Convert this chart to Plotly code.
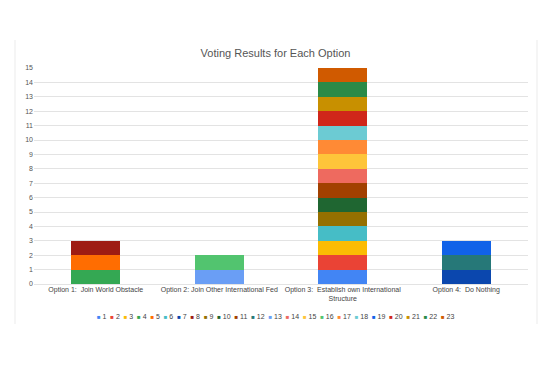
import plotly.graph_objects as go

options = [
    "Option 1:  Join World Obstacle",
    "Option 2: Join Other International Fed",
    "Option 3:  Establish own International<br>Structure",
    "Option 4:  Do Nothing",
]
series_names = [str(i) for i in range(1, 24)]
# option (1-based) each voter chose, and the votes each contributes
series_option = [3, 3, 3, 1, 1, 3, 4, 1, 3, 3, 3, 4, 2, 3, 3, 2, 3, 3, 4, 3, 3, 3, 3]
series_votes = [1] * 23
colors = [
    "#4285F4", "#EA4335", "#FBBC04", "#34A853", "#FF6D01", "#46BDC6",
    "#0B47AE", "#9E1C13", "#957000", "#1F6631", "#A24000", "#267878",
    "#6A9EF5", "#EE6A5F", "#FEC53A", "#52C46F", "#FF8A35", "#6CCBD3",
    "#1162E8", "#D0261A", "#C89000", "#2A8A47", "#D05A00",
]
y_ticks = list(range(0, 16))

# page body has an 8px margin; figure coordinates are offset by it
OFF = 8
W, H = 550 - OFF, 366 - OFF
L, R, T = 34 - OFF, 550 - 528, 68 - OFF
B = H - (284 - OFF)
pw, ph = W - L - R, H - T - B

fig = go.Figure()
for name, opt, v, c in zip(series_names, series_option, series_votes, colors):
    fig.add_trace(go.Bar(
        name=name, x=[options[opt - 1]], y=[v],
        marker=dict(color=c, line=dict(width=0)),
        showlegend=False,
    ))

def px_x(x):
    return (x - OFF - L) / pw

def px_y(y):
    return (H - B - (y - OFF)) / ph

legend_text = "\u00a0\u00a0".join(
    f"<span style='color:{c};font-size:6px'>■</span>\u00a0{n}"
    for n, c in zip(series_names, colors)
)

fig.update_layout(
    width=W, height=H,
    margin=dict(l=L, r=R, t=T, b=B),
    barmode="stack",
    bargap=0.6,
    plot_bgcolor="white",
    paper_bgcolor="white",
    font=dict(family="Arial, Liberation Sans, sans-serif", color="#444444", size=7),
    title=dict(text="Voting Results for Each Option", x=px_x(275.5), xref="paper",
               xanchor="center", y=1 - (53 - OFF) / H, yanchor="middle",
               font=dict(size=11, color="#555555")),
    xaxis=dict(categoryorder="array", categoryarray=options, showgrid=False,
               showline=False, ticks="", tickfont=dict(size=7, color="#444444")),
    yaxis=dict(range=[0, 15], tickvals=y_ticks, showgrid=True, gridcolor="#E3E3E3",
               gridwidth=1, zeroline=True, zerolinecolor="#E3E3E3", zerolinewidth=1,
               ticks="", tickfont=dict(size=7, color="#555555"), fixedrange=True),
    annotations=[dict(text=legend_text, xref="paper", yref="paper",
                      x=px_x(275), y=px_y(316), xanchor="center", yanchor="middle",
                      showarrow=False, font=dict(size=7, color="#444444"))],
    shapes=[
        dict(type="line", xref="paper", yref="paper", x0=px_x(15), x1=px_x(15),
             y0=px_y(40), y1=px_y(324), line=dict(color="#EBEBEB", width=1)),
        dict(type="line", xref="paper", yref="paper", x0=px_x(537), x1=px_x(537),
             y0=px_y(40), y1=px_y(324), line=dict(color="#EBEBEB", width=1)),
    ],
)

fig.write_html("out.html")
